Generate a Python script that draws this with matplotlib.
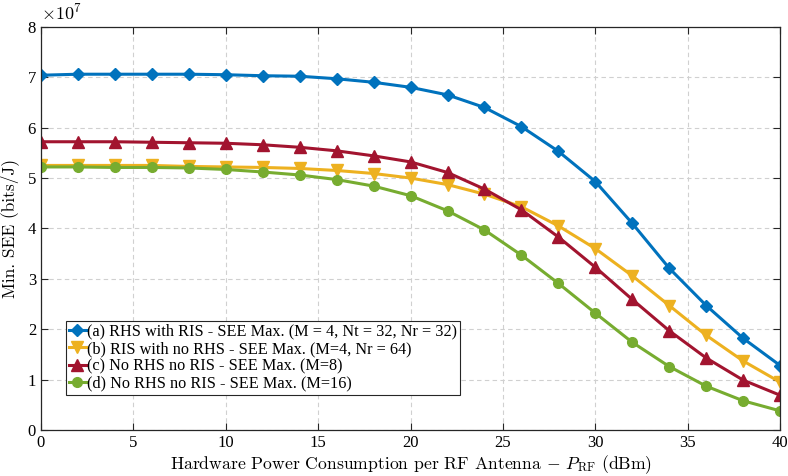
import numpy as np
import matplotlib
matplotlib.use("Agg")
import matplotlib.pyplot as plt

# x axis: hardware power per RF antenna (dBm)
p_rf = [0, 2, 4, 6, 8, 10, 12, 14, 16, 18, 20, 22, 24, 26, 28, 30, 32, 34, 36, 38, 40]

# Min. SEE values, in units of 1e7 bits/J
see_rhs_ris = [7.04, 7.06, 7.06, 7.06, 7.06, 7.05, 7.03, 7.02, 6.97, 6.90, 6.80,
               6.65, 6.40, 6.02, 5.53, 4.93, 4.10, 3.21, 2.47, 1.82, 1.28]
see_ris_only = [5.25, 5.25, 5.25, 5.25, 5.23, 5.22, 5.21, 5.19, 5.15, 5.09, 5.00,
                4.87, 4.68, 4.43, 4.05, 3.60, 3.06, 2.47, 1.88, 1.37, 0.95]
see_m8 = [5.72, 5.72, 5.72, 5.71, 5.70, 5.69, 5.66, 5.61, 5.54, 5.44, 5.32,
          5.11, 4.78, 4.37, 3.83, 3.23, 2.59, 1.97, 1.43, 0.99, 0.69]
see_m16 = [5.22, 5.22, 5.21, 5.21, 5.20, 5.17, 5.12, 5.06, 4.97, 4.84, 4.65,
           4.35, 3.97, 3.47, 2.91, 2.32, 1.74, 1.26, 0.87, 0.58, 0.38]

labels = [
    "(a) RHS with RIS - SEE Max. (M = 4, Nt = 32, Nr = 32)",
    "(b) RIS with no RHS - SEE Max. (M=4, Nr = 64)",
    "(c) No RHS no RIS - SEE Max. (M=8)",
    "(d) No RHS no RIS - SEE Max. (M=16)",
]

plt.rcParams['font.family'] = 'Liberation Serif'
plt.rcParams['mathtext.fontset'] = 'cm'

fig = plt.figure(figsize=(7.88, 4.76), dpi=100)
ax = fig.add_axes([0.052, 0.0966, 0.938, 0.847])

styles = [
    (see_rhs_ris, '#0072BD', 'D', 6.5),
    (see_ris_only, '#EDB120', 'v', 8.5),
    (see_m8, '#A2142F', '^', 8.5),
    (see_m16, '#77AC30', 'o', 7),
]
for (vals, col, mk, ms), lab in zip(styles, labels):
    ax.plot(p_rf, vals, color=col, marker=mk, markersize=ms, linewidth=2.2,
            label=lab, markeredgecolor=col, markerfacecolor=col)

ax.set_xlim(0, 40)
ax.set_ylim(0, 8)
ax.set_xticks(range(0, 41, 5))
ax.set_yticks(range(0, 9))
ax.tick_params(direction='in', top=True, right=True, labelsize=12, length=5,
               colors='#262626', labelcolor='black')
ax.grid(True, linestyle=(0, (4, 3)), color='#d0d0d0', linewidth=0.8)
for s in ax.spines.values():
    s.set_color('#262626')
    s.set_linewidth(0.9)

ax.text(0.0, 1.008, r'$\times 10^7$', transform=ax.transAxes, fontsize=13,
        ha='left', va='bottom')

ax.set_xlabel(r'Hardware Power Consumption per RF Antenna $-$ $P_{\mathrm{RF}}$ (dBm)',
              family='cmr10', fontsize=12.7, labelpad=2)
ax.set_ylabel('Min. SEE (bits/J)', family='cmr10', fontsize=12.5, labelpad=6)

leg = ax.legend(loc='lower left', bbox_to_anchor=(0.034, 0.087), fontsize=11.7,
                handlelength=1.0, handletextpad=0.1, labelspacing=0.08,
                borderpad=0.2, borderaxespad=0, fancybox=False, framealpha=1)
leg.get_frame().set_edgecolor('#262626')
leg.get_frame().set_linewidth(0.8)

fig.savefig('out.png', dpi=100)
